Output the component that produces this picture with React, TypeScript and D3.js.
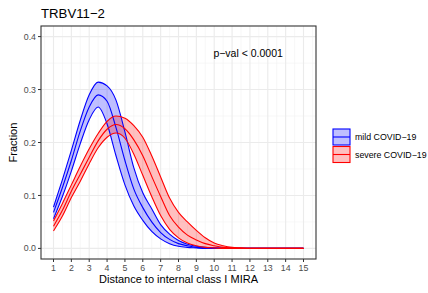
import React from 'react';
import * as d3 from 'd3';

// distance grid (half steps)
const distance = [1, 1.5, 2, 2.5, 3, 3.5, 4, 4.5, 5, 5.5, 6, 6.5, 7, 7.5, 8, 8.5, 9, 9.5, 10, 10.5, 11, 11.5, 12, 12.5, 13, 13.5, 14, 14.5, 15];

// mild COVID-19 fit (blue)
const mildMid = [0.068, 0.115, 0.166, 0.222, 0.267, 0.29, 0.278, 0.228, 0.166, 0.112, 0.077, 0.05, 0.03, 0.017, 0.009, 0.005, 0.002, 0.001, 0.0005, 0, 0, 0, 0, 0, 0, 0, 0, 0, 0];
const mildUpper = [0.078, 0.13, 0.185, 0.242, 0.29, 0.314, 0.307, 0.28, 0.22, 0.152, 0.105, 0.075, 0.045, 0.027, 0.015, 0.008, 0.004, 0.002, 0.001, 0.0005, 0, 0, 0, 0, 0, 0, 0, 0, 0];
const mildLower = [0.056, 0.098, 0.146, 0.198, 0.243, 0.267, 0.235, 0.175, 0.12, 0.08, 0.053, 0.032, 0.018, 0.009, 0.004, 0.002, 0.001, 0, 0, 0, 0, 0, 0, 0, 0, 0, 0, 0, 0];

// severe COVID-19 fit (red)
const severeMid = [0.042, 0.072, 0.108, 0.14, 0.172, 0.203, 0.225, 0.234, 0.226, 0.205, 0.175, 0.136, 0.098, 0.062, 0.04, 0.025, 0.016, 0.009, 0.005, 0.002, 0.001, 0, 0, 0, 0, 0, 0, 0, 0];
const severeUpper = [0.052, 0.085, 0.12, 0.155, 0.188, 0.217, 0.24, 0.25, 0.246, 0.232, 0.21, 0.175, 0.135, 0.095, 0.068, 0.05, 0.034, 0.02, 0.01, 0.005, 0.002, 0.001, 0, 0, 0, 0, 0, 0, 0];
const severeLower = [0.033, 0.061, 0.096, 0.127, 0.16, 0.19, 0.21, 0.218, 0.208, 0.178, 0.138, 0.098, 0.062, 0.036, 0.02, 0.01, 0.005, 0.002, 0.001, 0, 0, 0, 0, 0, 0, 0, 0, 0, 0];

const xTicks = [1, 2, 3, 4, 5, 6, 7, 8, 9, 10, 11, 12, 13, 14, 15];
const yTicks = [0, 0.1, 0.2, 0.3, 0.4];

const groups = [
  { label: 'mild COVID\u221219', color: '#0000ff', mid: mildMid, upper: mildUpper, lower: mildLower },
  { label: 'severe COVID\u221219', color: '#ff0000', mid: severeMid, upper: severeUpper, lower: severeLower }
];

const W = 428;
const H = 293;
const left = 41, right = 316, top = 26, bottom = 259;
const font = 'Liberation Sans, Arial, Helvetica, sans-serif';

export default function App() {
  const x = d3.scaleLinear().domain([0.3, 15.7]).range([left, right]);
  const y = d3.scaleLinear().domain([-0.02, 0.42]).range([bottom, top]);

  const line = (vals: number[]) =>
    d3.line<number>()
      .x((d, i) => x(distance[i]))
      .y(d => y(d))
      .curve(d3.curveMonotoneX)(vals) as string;

  const area = (lo: number[], hi: number[]) =>
    d3.area<number>()
      .x((d, i) => x(distance[i]))
      .y0((d, i) => y(lo[i]))
      .y1((d, i) => y(hi[i]))
      .curve(d3.curveMonotoneX)(lo) as string;

  const minorX = d3.range(0.5, 15.6, 1);
  const minorY = [-0.0, 0.05, 0.15, 0.25, 0.35];

  return (
    <svg width={W} height={H} style={{ position: 'absolute', left: 0, top: 0, background: '#fff' }} fontFamily={font}>
      <rect x={0} y={0} width={W} height={H} fill="#fff" />
      {/* grid */}
      <g>
        {minorX.map(v => (
          <line key={'mx' + v} x1={x(v)} x2={x(v)} y1={top} y2={bottom} stroke="#f2f2f2" strokeWidth={0.6} />
        ))}
        {minorY.slice(1).map(v => (
          <line key={'my' + v} x1={left} x2={right} y1={y(v)} y2={y(v)} stroke="#f2f2f2" strokeWidth={0.6} />
        ))}
        {xTicks.map(v => (
          <line key={'gx' + v} x1={x(v)} x2={x(v)} y1={top} y2={bottom} stroke="#ebebeb" strokeWidth={1.1} />
        ))}
        {yTicks.map(v => (
          <line key={'gy' + v} x1={left} x2={right} y1={y(v)} y2={y(v)} stroke="#ebebeb" strokeWidth={1.1} />
        ))}
      </g>
      {/* ribbons */}
      {groups.map(g => (
        <path key={'r' + g.label} d={area(g.lower, g.upper)} fill={g.color} fillOpacity={0.25} stroke="none" />
      ))}
      {/* lines */}
      {groups.map(g => (
        <g key={'l' + g.label} fill="none" stroke={g.color} strokeWidth={1.1}>
          <path d={line(g.upper)} />
          <path d={line(g.mid)} />
          <path d={line(g.lower)} />
        </g>
      ))}
      {/* annotation */}
      <text x={x(11.9)} y={y(0.366)} textAnchor="middle" dominantBaseline="middle" fontSize={10.5} fill="#000">
        p{'\u2212'}val {'<'} 0.0001
      </text>
      {/* panel border */}
      <rect x={left} y={top} width={right - left} height={bottom - top} fill="none" stroke="#333" strokeWidth={1.1} />
      {/* axes */}
      {xTicks.map(v => (
        <g key={'tx' + v}>
          <line x1={x(v)} x2={x(v)} y1={bottom} y2={bottom + 3} stroke="#333" strokeWidth={1} />
          <text x={x(v)} y={bottom + 12} textAnchor="middle" fontSize={8.8} fill="#4d4d4d">{v}</text>
        </g>
      ))}
      {yTicks.map(v => (
        <g key={'ty' + v}>
          <line x1={left - 3} x2={left} y1={y(v)} y2={y(v)} stroke="#333" strokeWidth={1} />
          <text x={left - 5} y={y(v)} dy="0.35em" textAnchor="end" fontSize={8.8} fill="#4d4d4d">{v.toFixed(1)}</text>
        </g>
      ))}
      <text x={(left + right) / 2} y={283} textAnchor="middle" fontSize={11} fill="#000">Distance to internal class I MIRA</text>
      <text transform={`translate(17,${(top + bottom) / 2}) rotate(-90)`} textAnchor="middle" fontSize={11} fill="#000">Fraction</text>
      <text x={41} y={18} fontSize={13.2} fill="#000">TRBV11{'\u2212'}2</text>
      {/* legend */}
      {groups.map((g, i) => {
        const ky = 129 + i * 17.5;
        return (
          <g key={'lg' + g.label}>
            <rect x={333} y={ky} width={17} height={16} fill={g.color} fillOpacity={0.25} stroke={g.color} strokeWidth={1.1} />
            <line x1={333} x2={350} y1={ky + 8} y2={ky + 8} stroke={g.color} strokeWidth={1.1} />
            <text x={355} y={ky + 8} dy="0.35em" fontSize={8.8} fill="#000">{g.label}</text>
          </g>
        );
      })}
    </svg>
  );
}
